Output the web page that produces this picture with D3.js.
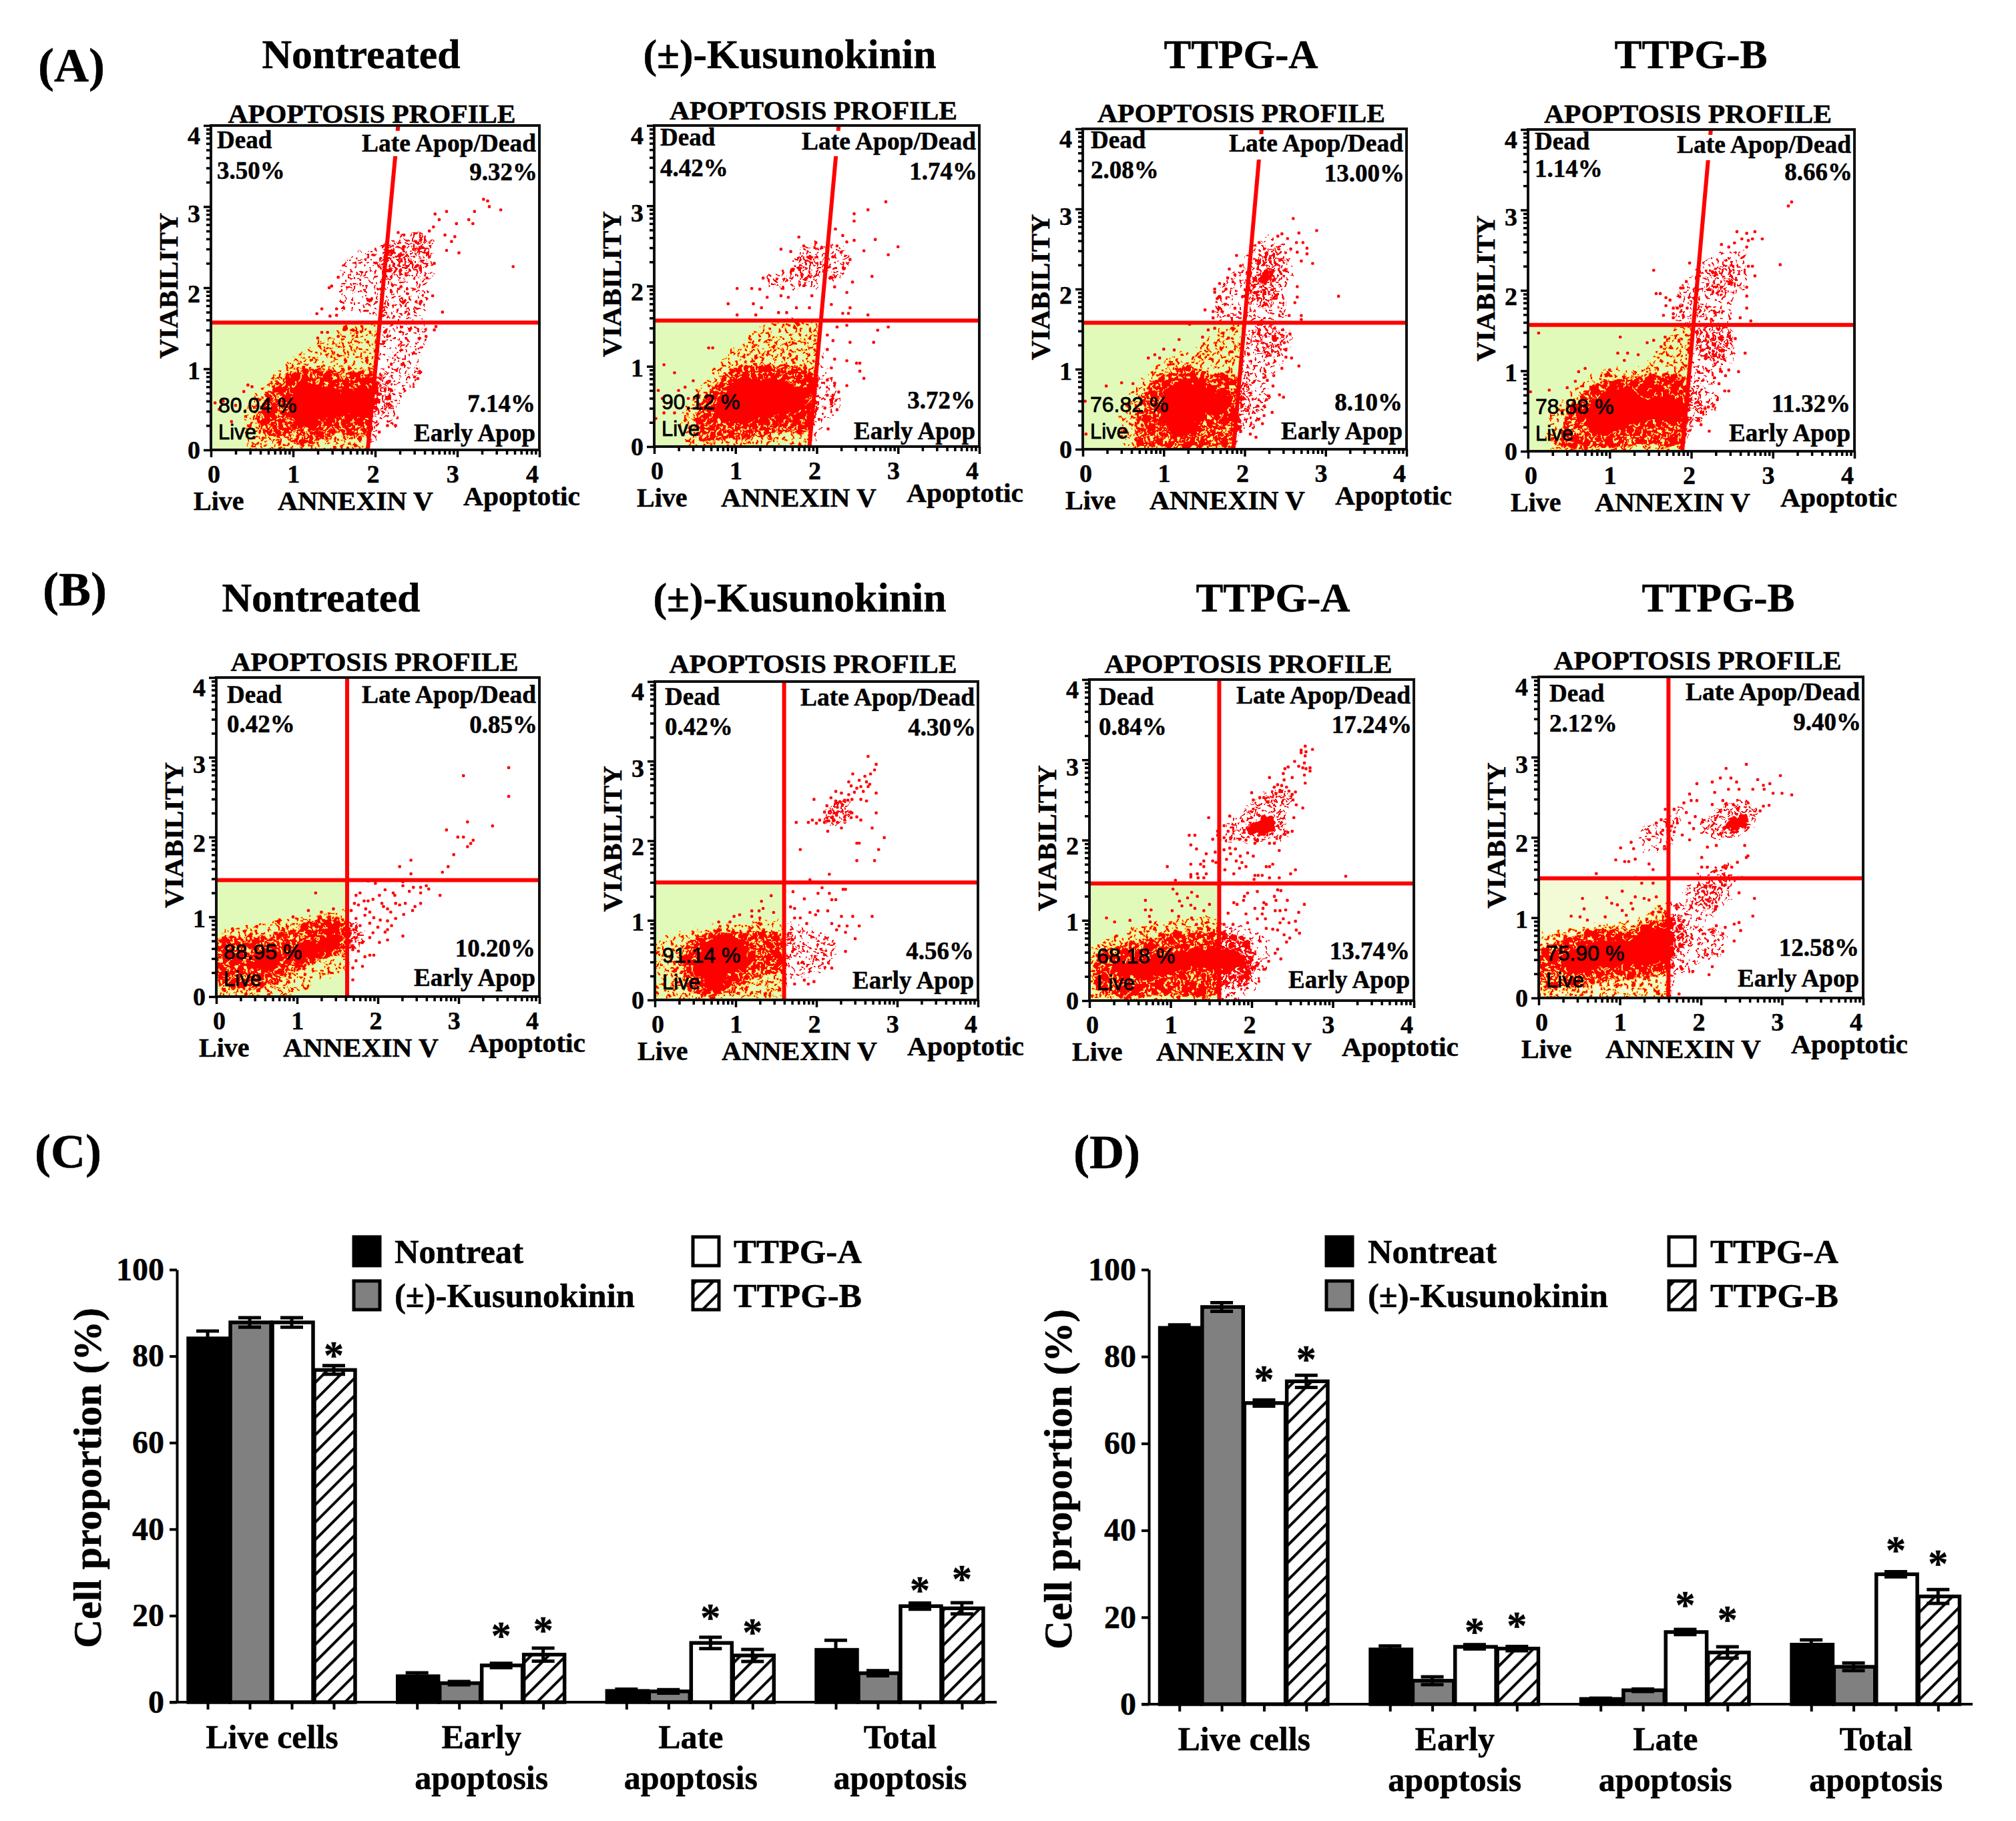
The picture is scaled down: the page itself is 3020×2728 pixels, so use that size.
<!DOCTYPE html>
<html>
<head>
<meta charset="utf-8">
<script src="https://cdn.jsdelivr.net/npm/d3@7"></script>
<style>
  body { margin: 0; background: #fff; }
  text { font-family: "Liberation Serif", serif; font-weight: bold; fill: #000; stroke: #000; stroke-width: 0.5px; }
</style>
</head>
<body>
<div id="chart"></div>
<script>
// ---- flow cytometry panels, axis units ----
const panelTitles = ["Nontreated", "(±)-Kusunokinin", "TTPG-A", "TTPG-B"];
const deadPct = ["3.50%", "4.42%", "2.08%", "1.14%", "0.42%", "0.42%", "0.84%", "2.12%"];
const latePct = ["9.32%", "1.74%", "13.00%", "8.66%", "0.85%", "4.30%", "17.24%", "9.40%"];
const earlyPct = ["7.14%", "3.72%", "8.10%", "11.32%", "10.20%", "4.56%", "13.74%", "12.58%"];
const livePct = ["80.04 %", "90.12 %", "76.82 %", "78.88 %", "88.95 %", "91.14 %", "68.18 %", "75.90 %"];
const gateBottom = [1.91, 1.91, 1.86, 1.89, 1.62, 1.60, 1.60, 1.60];
const gateTop = [2.28, 2.27, 2.21, 2.24, 1.62, 1.60, 1.60, 1.60];
const gateY = [1.57, 1.57, 1.58, 1.57, 1.46, 1.476, 1.46, 1.49];

// outline of the solid red part of each cloud
const coreA1 = [[[.95,.55],[1.0,.72],[1.15,.82],[1.35,.78],[1.6,.72],[1.9,.75],[1.97,.6],[1.9,.45],[1.6,.42],[1.35,.38],[1.2,.25],[1.05,.3]]];
const coreA2 = [[[.75,.45],[.85,.65],[1.0,.82],[1.3,.87],[1.7,.78],[1.85,.72],[1.88,.55],[1.7,.42],[1.4,.38],[1.1,.3],[.85,.32]]];
const coreA3 = [[[.95,.5],[.98,.65],[1.1,.8],[1.25,.85],[1.45,.78],[1.7,.72],[1.85,.6],[1.75,.45],[1.45,.42],[1.38,.2],[1.2,.15],[1.05,.25]],
  [[2.18,2.12],[2.24,2.22],[2.34,2.22],[2.38,2.12],[2.28,2.08]]];
const coreA4 = [[[.7,.35],[.78,.58],[.95,.75],[1.2,.78],[1.4,.68],[1.85,.65],[1.92,.45],[1.5,.38],[1.25,.35],[1.1,.25],[.85,.22]]];
const coreB1 = [[[.45,.38],[.5,.52],[.72,.56],[.8,.45],[.68,.33]], [[1.3,.62],[1.33,.7],[1.5,.78],[1.55,.65],[1.42,.58]], [[.9,.5],[1.0,.62],[1.3,.72],[1.35,.6],[1.1,.45]]];
const coreB2 = [[[.5,.35],[.55,.65],[.8,.8],[1.05,.78],[1.17,.6],[1.1,.4],[.9,.3],[.85,.12],[.7,.12],[.6,.25]]];
const coreB3 = [[[.3,.35],[.35,.45],[.7,.52],[1.0,.6],[1.3,.65],[1.6,.65],[1.85,.6],[1.9,.45],[1.6,.38],[1.3,.4],[1.0,.33],[.6,.28]],
  [[1.9,2.12],[2.0,2.2],[2.15,2.3],[2.27,2.25],[2.28,2.12],[2.1,2.08]]];
const coreB4 = [[[.3,.4],[.4,.6],[.75,.72],[1.1,.72],[1.35,.85],[1.6,.85],[1.62,.5],[1.2,.42],[.8,.38],[.5,.3]],
  [[2.28,2.12],[2.36,2.22],[2.56,2.27],[2.58,2.17],[2.4,2.08]]];

// outline of the thick speckled part, the main cloud comes first
const denseA1 = [[[.62,.25],[.62,.6],[.85,.85],[1.05,1.0],[1.4,.98],[1.75,.95],[1.98,1.02],[1.94,.2],[1.5,.18],[1.1,.05],[.95,.12]],
  [[2.1,2.12],[2.1,2.48],[2.4,2.5],[2.6,2.35],[2.55,2.12],[2.3,2.12]], [[2.42,2.42],[2.45,2.65],[2.62,2.65],[2.62,2.42]], [[1.97,.5],[2.0,.9],[2.15,.85],[2.2,.55]]];
const denseA2 = [[[.55,.08],[.5,.45],[.7,.7],[.95,.95],[1.3,1.02],[1.7,1.0],[1.95,.95],[1.93,.2],[1.5,.15],[1.0,.1]],
  [[1.7,2.1],[1.75,2.32],[1.95,2.38],[2.15,2.3],[2.15,2.15],[1.95,2.1]]];
const denseA3 = [[[.7,.05],[.72,.65],[.95,.9],[1.25,1.02],[1.55,.95],[1.85,.9],[1.87,.1],[1.4,.03],[1.0,.03]],
  [[2.0,2.05],[2.1,2.35],[2.4,2.5],[2.5,2.4],[2.4,2.0],[2.3,1.75],[2.1,1.85]], [[2.1,1.5],[2.42,1.5],[2.38,1.2],[2.15,1.2]], [[1.9,.35],[1.92,.98],[2.03,.98],[2.03,.5]]];
const denseA4 = [[[.4,.1],[.55,.6],[.9,.85],[1.3,.92],[1.6,.95],[1.9,.95],[1.88,.1],[1.4,.08],[.9,.05]],
  [[2.2,2.0],[2.25,2.25],[2.45,2.3],[2.55,2.15],[2.42,1.95]], [[2.05,1.5],[2.45,1.55],[2.5,1.25],[2.35,1.1],[2.1,1.2]], [[1.92,.35],[1.95,.8],[2.08,.8],[2.1,.4]]];
const denseB1 = [[[.02,.2],[.02,.7],[.5,.75],[1.0,.85],[1.2,.98],[1.6,.95],[1.62,.6],[1.25,.45],[.9,.3],[.7,.15],[.3,.1]], [[1.62,.7],[1.62,.9],[1.75,.92],[1.85,.75],[1.8,.65],[1.65,.6]]];
const denseB2 = [[[.35,.3],[.38,.7],[.7,.85],[1.1,.85],[1.58,.8],[1.58,.35],[1.3,.3],[1.0,.15],[.7,.05],[.5,.1]], [[1.6,.5],[1.6,.8],[1.7,.8],[1.75,.55]],
  [[2.05,2.22],[2.1,2.35],[2.2,2.45],[2.4,2.5],[2.42,2.3],[2.32,2.22]]];
const denseB3 = [[[.1,.15],[.1,.55],[.5,.72],[1.0,.85],[1.6,.85],[1.95,.75],[2.05,.45],[1.95,.2],[1.65,.2],[1.6,.08],[1.2,.05],[.8,.08],[.5,.05]],
  [[1.65,2.0],[1.7,2.18],[1.9,2.35],[2.1,2.55],[2.35,2.65],[2.5,2.55],[2.4,2.25],[2.45,2.08],[2.25,1.98],[1.95,1.98]]];
const denseB4 = [[[.02,.2],[.05,.6],[.4,.75],[.75,.85],[1.1,.85],[1.4,.95],[1.6,1.05],[1.62,.35],[1.2,.25],[.7,.18],[.35,.12]],
  [[1.6,.5],[1.6,1.05],[1.8,.95],[1.85,.75],[1.75,.6]], [[1.95,1.15],[2.0,1.4],[2.2,1.5],[2.35,1.5],[2.25,1.3],[2.1,1.1]], [[2.0,2.05],[2.05,2.25],[2.3,2.4],[2.6,2.45],[2.7,2.25],[2.4,2.0],[2.15,1.98]]];

// outline of the thin speckled part
const sparseA1 = [[[.5,0],[.45,.55],[.75,.9],[1.05,1.15],[1.4,1.38],[1.7,1.55],[1.98,1.55],[1.92,0]],
  [[1.6,1.7],[1.65,2.35],[1.9,2.45],[2.35,2.65],[2.65,2.65],[2.68,2.2],[2.55,1.62],[2.15,1.62],[1.85,1.7]], [[2.05,.3],[2.1,1.52],[2.6,1.52],[2.58,1.2],[2.5,.85],[2.3,.6],[2.25,.3]]];
const sparseA2 = [[[.45,0],[.35,.4],[.55,.7],[.75,1.0],[1.05,1.25],[1.35,1.5],[1.95,1.55],[1.92,0]],
  [[1.35,2.0],[1.35,2.12],[1.65,2.2],[1.8,2.48],[2.25,2.55],[2.4,2.3],[2.3,2.1],[2.05,2.0]], [[2.0,.3],[2.05,.9],[2.2,.85],[2.3,.6],[2.28,.5],[2.15,.35]]];
const sparseA3 = [[[.55,0],[.5,.5],[.8,.95],[1.1,1.15],[1.4,1.25],[1.7,1.5],[1.85,1.55],[1.85,0]],
  [[1.65,1.6],[1.7,2.0],[1.95,2.3],[2.2,2.65],[2.5,2.55],[2.6,2.25],[2.5,1.9],[2.5,1.62]], [[2.0,1.5],[2.55,1.5],[2.5,1.1],[2.2,.9],[2.0,1.0]], [[1.9,.25],[1.93,1.0],[2.05,1.0],[2.3,.75],[2.25,.5],[2.05,.25]]];
const sparseA4 = [[[.3,0],[.3,.5],[.6,.8],[.95,1.0],[1.4,1.05],[1.65,1.35],[1.88,1.55],[1.88,0]],
  [[1.85,1.6],[1.85,2.0],[2.1,2.3],[2.3,2.45],[2.65,2.45],[2.65,2.05],[2.5,1.9],[2.45,1.6]], [[1.97,1.5],[2.5,1.5],[2.5,1.15],[2.3,.85],[2.35,.6],[2.1,.4],[1.92,.35]]];
const sparseB1 = [[[.02,0],[.02,.78],[.5,.9],[.95,.98],[1.35,1.05],[1.6,1.05],[1.6,.35],[1.3,.2],[1.0,.05],[.5,0]]];
const sparseB2 = [[[.02,0],[.02,.7],[.35,.85],[.85,.95],[1.25,1.0],[1.58,.95],[1.58,.1],[1.1,.03],[.6,0]], [[1.6,.3],[1.6,.95],[1.9,.9],[2.2,.75],[2.2,.55],[2.1,.35],[1.85,.3]]];
const sparseB3 = [[[.02,0],[.02,.65],[.3,.8],[.6,.9],[1.1,1.0],[1.58,1.0],[1.58,0]], [[1.6,.05],[1.6,.9],[2.0,.9],[2.2,.75],[2.15,.3],[2.0,.1]]];
const sparseB4 = [[[.02,0],[.02,.75],[.4,.85],[.8,.95],[1.2,.95],[1.58,1.15],[1.58,0]], [[1.6,.45],[1.62,1.2],[1.85,1.15],[2.0,.9],[2.25,.85],[2.25,.55],[2.0,.45],[1.85,.3]],
  [[1.75,1.05],[1.9,1.5],[2.35,1.65],[2.45,1.5],[2.3,1.2],[2.1,.95]], [[1.25,1.9],[1.25,2.1],[1.55,2.2],[1.75,2.38],[1.65,1.95],[1.4,1.8]]];

// single events that stand clear of the clouds
const pointsA1 = [[3.32,3.09],[3.37,3.07],[3.39,3.0],[3.53,2.96],[3.21,2.94],[3.14,2.84],[3.19,2.79],[2.87,2.94],[2.73,2.91],[2.78,2.84],[2.71,2.75],[2.99,2.79],[2.97,2.63],[2.85,2.65],[3.02,2.43],[3.68,2.26],[2.93,2.57],[2.87,2.46],
  [2.66,2.7],[2.35,2.65],[2.28,2.68],[2.72,2.3],[2.66,2.38],[2.63,2.12],[1.44,2.0],[1.47,2.02],[1.35,1.74],[1.29,1.68],[1.53,1.74],[1.53,1.66],[1.55,2.13],[1.45,1.65],[2.82,1.7],[2.74,1.52],[2.72,1.48],[2.7,1.9],[2.15,1.4],[2.62,1.4],
  [1.35,1.45],[1.42,1.45],[1.3,1.38],[1.65,1.5],[1.78,1.45],[1.55,1.4],[.45,.8],[.4,.72],[.5,.78],[.15,.6],[.1,.5],[.3,.55],[.25,.35],[.05,.58],[2.05,.22],[2.15,.3],[2.25,.3],[2.48,.9],[2.52,.88]];
const pointsA2 = [[2.85,3.05],[2.63,2.95],[2.46,2.9],[2.46,2.81],[2.23,2.71],[2.32,2.63],[1.78,2.61],[2.72,2.58],[2.46,2.57],[3.0,2.49],[2.58,2.44],[2.88,2.39],[2.68,2.12],[1.56,2.46],[1.68,2.43],[1.84,2.5],[1.99,2.54],[2.06,2.48],[2.25,2.5],[2.37,2.55],[2.3,2.42],[2.41,2.33],[2.34,2.22],[2.44,2.05],[2.37,1.92],[2.41,1.73],[2.18,1.77],[2.22,1.99],
  [1.02,1.97],[1.2,1.97],[1.3,1.96],[1.34,2.1],[.91,1.78],[1.22,1.78],[1.02,1.64],[1.25,1.64],[1.32,1.73],[1.39,1.86],[1.56,1.88],[1.65,1.86],[1.75,1.73],[1.63,1.67],[1.53,1.67],[1.91,1.73],[1.94,1.88],[2.32,1.66],[2.63,1.64],[2.39,1.66],[2.75,1.45],[2.88,1.49],[2.7,1.3],[2.37,1.51],[2.25,1.49],[2.13,1.39],[2.2,1.32],[2.41,1.3],[2.13,1.21],[2.22,1.09],[2.37,1.07],[2.49,1.04],[2.53,1.04],[2.53,.94],[2.58,.85],[2.18,.98],[2.13,.83],[2.22,.79],[2.37,.76],[2.13,.64],[2.2,.64],[2.27,.68],[2.18,.53],[2.25,.46],[2.1,.48],[2.03,.34],[2.14,.22],
  [.12,1.02],[.25,.92],[.48,.82],[.67,1.23],[.72,1.23],[.05,.7],[.1,.6],[.2,.55],[.3,.7],[.12,.42],[.02,.35],[.25,.42],[.38,.74],[.42,.6]];
const pointsA3 = [[2.6,2.88],[2.89,2.73],[2.67,2.7],[2.46,2.69],[2.41,2.66],[2.53,2.63],[2.64,2.58],[2.18,2.58],[2.72,2.58],[2.77,2.51],[2.57,2.5],[2.77,2.44],[2.65,2.46],[1.9,2.42],[2.7,2.35],[2.84,2.32],[1.95,2.29],[1.81,2.25],[1.79,2.14],[1.88,2.18],[1.69,2.07],[1.63,2.0],[1.63,1.96],[1.77,2.0],[2.65,2.03],[3.16,1.91],[2.65,1.9],[2.62,1.83],[1.66,1.88],[1.76,1.81],[1.51,1.74],[1.61,1.72],[1.72,1.72],[1.8,1.67],[1.61,1.64],[1.88,1.76],[2.55,1.67],[2.7,1.67],[2.7,1.62],[1.32,1.56],
  [2.56,1.44],[2.49,1.33],[2.51,1.24],[2.51,1.15],[2.58,1.14],[2.46,1.01],[2.67,1.04],[2.36,.92],[2.28,.86],[2.35,.79],[2.43,.68],[2.48,.65],[2.27,.62],[2.16,.54],[2.34,.46],[2.24,.42],[2.22,.32],[2.14,.15],[2.07,.19],[1.91,.29],[1.95,.22],
  [1.19,1.37],[1.0,1.25],[1.13,1.24],[.89,1.18],[.81,1.14],[.95,1.14],[1.48,1.4],[1.55,1.49],[1.63,1.51],[1.85,1.51],[1.8,1.39],[.29,.79],[.48,.83],[.62,.82],[.04,.19],[.03,.6]];
const pointsA4 = [[3.23,3.1],[3.19,3.05],[2.56,2.73],[2.68,2.71],[2.78,2.73],[2.87,2.64],[2.62,2.64],[2.75,2.64],[2.7,2.62],[2.53,2.59],[2.68,2.54],[2.37,2.57],[2.46,2.54],[3.09,2.32],[2.75,2.3],[2.7,2.3],[2.78,2.18],[1.54,2.25],[1.98,2.34],
  [1.57,1.96],[1.62,1.96],[1.69,1.91],[1.74,1.88],[1.69,1.81],[1.78,1.78],[1.83,1.78],[1.78,1.71],[1.78,1.66],[1.66,1.69],[1.86,1.92],[1.9,2.03],[1.87,2.03],[1.94,2.11],[1.95,1.78],[1.9,1.69],[2.68,1.93],[2.68,1.78],[2.6,1.66],[2.73,1.62],[2.68,2.04],
  [2.66,1.22],[2.58,.99],[2.54,1.4],[2.42,.94],[2.46,1.01],[2.46,.75],[2.41,.75],[2.34,.84],[2.32,.64],[2.27,.56],[2.21,.55],[2.17,.53],[2.22,.25],[2.12,.33],[2.09,.4],
  [.13,1.47],[1.13,1.42],[1.1,1.22],[1.22,1.22],[1.35,1.2],[1.46,1.35],[1.54,1.38],[1.63,1.3],[1.18,1.13],[1.0,1.01],[.62,.99],[.7,1.03],[.58,.87],[.48,.79],[.26,.76],[.03,.74],[1.68,1.42],[1.85,1.38]];
const pointsB1 = [[3.62,2.87],[3.06,2.77],[3.62,2.51],[3.11,2.19],[3.42,2.14],[2.85,2.09],[2.99,2.0],[3.06,2.0],[3.18,1.96],[3.15,1.92],[3.11,1.88],[2.94,1.78],[2.87,1.63],[2.8,1.56],[2.41,1.71],[2.27,1.63],[2.41,1.54],[1.88,1.45],[1.97,1.42],[2.31,1.44],[2.31,1.39],[2.44,1.37],[2.39,1.32],[2.53,1.37],[2.6,1.39],[2.63,1.35],[2.53,1.3],[2.77,1.27],[2.09,1.34],[2.19,1.3],[2.21,1.27],[2.02,1.27],[1.78,1.3],[1.73,1.27],[1.94,1.22],[1.83,1.2],[1.88,1.2],[1.71,1.17],[1.76,1.15],[2.05,1.17],[2.07,1.13],[2.12,1.1],[2.16,1.06],[2.22,1.17],[2.27,1.15],[2.34,1.17],[2.53,1.17],[2.46,1.13],[2.43,1.08],[2.32,1.03],[2.22,.98],[1.85,1.1],[1.9,1.06],[1.84,1.02],[1.95,.99],[1.9,.92],[2.03,.96],[2.12,.95],[2.0,.87],[2.17,.89],[2.12,.84],[2.09,.81],[1.94,.8],[2.12,.71],[2.02,.68],[2.31,.76],[1.9,.74],[1.81,.68],[1.76,.78],[1.78,.89],[1.73,.98],[1.67,.89],[1.7,.84],[1.67,1.08],[1.84,.5],[1.9,.52],[1.95,.52],[1.76,.57],[1.73,.45],[1.81,.38],[1.69,.36],[1.69,.21],[1.69,.59],
  [1.23,1.30],[1.14,1.08],[1.45,1.1],[.5,.88],[.2,.85],[.35,.82],[.95,1.0],[1.3,1.06]];
const pointsB2 = [[2.64,3.06],[2.74,2.96],[2.72,2.89],[2.67,2.84],[2.45,2.84],[2.6,2.81],[2.53,2.76],[2.62,2.74],[2.4,2.74],[2.66,2.71],[2.43,2.69],[2.55,2.68],[2.64,2.68],[2.5,2.66],[2.47,2.61],[2.58,2.62],[2.74,2.6],[2.24,2.62],[2.31,2.6],[2.4,2.58],[1.97,2.52],[2.18,2.54],[2.35,2.51],[2.39,2.51],[2.44,2.52],[2.55,2.52],[2.62,2.5],[2.24,2.5],[2.29,2.49],[2.13,2.44],[2.26,2.42],[2.32,2.37],[2.42,2.36],[2.44,2.35],[2.74,2.35],[2.1,2.36],[2.17,2.37],[2.22,2.35],[2.13,2.29],[2.2,2.3],[2.25,2.32],[2.35,2.3],[2.5,2.3],[2.43,2.29],[2.55,2.26],[1.75,2.23],[1.9,2.23],[1.95,2.26],[2.0,2.22],[2.04,2.26],[2.1,2.23],[2.15,2.25],[2.21,2.25],[2.26,2.23],[2.35,2.26],[2.31,2.16],[2.69,2.16],[2.14,2.12],[2.84,2.04],[2.5,1.97],[2.53,1.97],[1.8,1.89],[2.77,1.89],[2.5,1.75],[2.72,1.75],[2.16,1.58],[1.92,1.51],[2.07,1.41],[2.33,1.39],[2.36,1.39],[1.71,1.36],[2.02,1.34],[2.16,1.34],[1.85,1.27],[2.19,1.26],[2.24,1.26],[1.68,1.17],[1.73,1.15],[1.92,1.1],[2.02,1.12],[2.14,1.12],[1.99,1.07],[2.31,1.05],[2.45,1.05],[2.69,1.05],[1.73,1.03],[1.8,1.03],[1.88,.96],[2.19,.96],[2.28,.93],[2.53,.93],[2.38,.93],[2.25,.88],[2.36,.85],[2.48,.77],[2.36,.61],[2.19,.4],[1.73,.2],[1.85,.25],[1.9,.2],[1.97,.23],
  [1.44,1.31],[1.32,1.24],[1.34,1.15],[1.29,1.12],[1.2,1.12],[1.47,1.1],[1.05,1.07],[.98,1.05],[1.2,1.05],[1.3,1.03],[.79,.98],[.93,.98]];
const pointsB3 = [[2.66,3.17],[2.61,3.12],[2.61,3.09],[2.67,3.1],[2.75,3.13],[2.66,3.05],[2.53,2.98],[2.58,2.92],[2.65,2.96],[2.63,2.9],[2.67,2.89],[2.72,2.9],[2.72,2.86],[2.45,2.91],[2.41,2.89],[2.39,2.83],[2.65,2.81],[2.22,2.78],[2.5,2.78],[2.66,2.71],[2.4,2.75],[2.32,2.69],[2.37,2.68],[2.43,2.66],[2.28,2.66],[2.35,2.62],[2.3,2.58],[2.46,2.61],[2.5,2.57],[2.54,2.6],[2.0,2.59],[2.51,2.5],[2.55,2.44],[2.63,2.4],[2.1,2.53],[2.15,2.53],[2.02,2.5],[1.73,2.3],[1.47,2.28],[2.52,2.28],[2.5,2.11],[2.41,2.07],[1.66,2.18],[1.71,2.11],[1.58,2.11],[1.58,2.06],[1.23,2.06],[1.3,2.06],[1.52,2.01],[1.66,2.03],[1.74,2.03],[1.85,2.01],[1.93,2.0],[2.04,1.96],[2.22,1.96],[2.28,1.96],[1.25,1.94],[1.32,1.89],[1.73,1.9],[1.8,1.89],[2.34,1.87],[1.66,1.88],[1.44,1.83],[1.55,1.85],[1.74,1.83],[1.86,1.8],[2.02,1.8],[1.95,1.84],[1.41,1.74],[1.37,1.7],[1.41,1.67],[1.52,1.74],[1.56,1.72],[1.25,1.7],[.96,1.67],[1.69,1.76],[1.81,1.74],[1.88,1.72],[1.93,1.67],[1.85,1.65],[2.18,1.67],[2.22,1.67],[2.26,1.7],[1.67,1.63],[2.54,1.63],[2.48,1.58],[1.78,1.58],[3.16,1.55],[1.25,1.57],[1.33,1.58],[1.44,1.58],[1.25,1.54],[1.34,1.53],[1.41,1.53],[2.04,1.56],[2.08,1.56],[2.13,1.56],[2.03,1.51],[2.22,1.53],[2.34,1.53],[1.06,1.5],
  [1.95,1.34],[2.07,1.36],[2.32,1.38],[2.36,1.37],[2.28,1.3],[1.91,1.3],[1.9,1.25],[2.3,1.25],[2.44,1.25],[1.78,1.22],[1.82,1.2],[2.15,1.22],[2.18,1.2],[2.65,1.2],[2.04,1.15],[2.14,1.15],[2.35,1.12],[2.42,1.13],[2.58,1.1],[1.71,1.09],[1.93,1.08],[2.13,1.08],[2.29,1.12],[2.54,.99],[2.39,1.02],[2.07,1.02],[1.77,.95],[1.66,.95],[1.95,.97],[2.17,1.02],[2.35,.97],[2.46,.97],[2.55,.88],[2.59,.84],[2.4,.82],[2.47,.78],[2.43,.73],[2.26,.89],[2.32,.88],[2.18,.9],[2.32,.64],[2.36,.52],[2.21,.49],[2.15,.39],[2.29,.59],[1.69,.2],[1.77,.16],[1.85,.2],[1.71,.07],[1.8,.02],[1.9,.31],[1.97,.34],
  [.69,1.25],[.69,1.13],[.76,1.13],[.74,1.05],[.21,1.03],[.31,.98],[.5,1.0],[.75,.98],[1.03,1.39],[1.08,1.33],[1.11,1.24],[1.21,1.28],[1.26,1.35],[1.33,1.3],[1.14,1.18],[1.25,1.19],[1.3,1.15],[1.41,1.12],[1.48,1.2],[1.02,1.12],[1.1,1.05],[1.26,1.03],[1.32,.95]];
const pointsB4 = [[2.56,2.91],[2.31,2.86],[2.24,2.74],[2.37,2.74],[2.14,2.69],[2.44,2.69],[1.95,2.67],[2.98,2.77],[2.7,2.72],[2.77,2.65],[2.85,2.67],[3.12,2.53],[3.0,2.55],[2.89,2.55],[2.34,2.6],[2.64,2.6],[1.86,2.54],[2.17,2.56],[2.47,2.6],[2.78,2.6],[1.88,2.46],[1.95,2.46],[1.79,2.43],[2.14,2.41],[2.27,2.46],[2.4,2.41],[2.84,2.4],[2.77,2.39],[2.73,2.33],[2.58,2.43],[1.67,2.35],[1.82,2.31],[1.93,2.26],[1.86,2.18],[1.91,2.11],[1.71,2.18],[1.77,2.03],[1.86,1.97],[1.67,2.07],[2.08,1.88],[2.19,1.9],[2.01,1.75],[2.54,1.9],[2.58,1.77],[2.56,1.75],[2.45,1.69],[2.38,1.63],[2.27,1.63],[2.17,1.58],[2.08,1.63],[2.01,1.63],[2.51,1.5],[2.3,1.41],[2.47,1.31],[2.66,1.24],[2.64,1.02],[2.47,.94],[2.41,.92],[2.49,.84],[2.3,.88],[2.19,.9],[2.27,.8],[2.41,.71],[2.27,.58],[2.14,.39],[2.1,.29],[1.9,.33],[1.73,.05],
  [.71,1.55],[1.01,1.87],[.95,1.72],[1.06,1.7],[1.11,1.7],[1.14,1.94],[1.17,1.86],[1.19,1.73],[1.36,1.67],[1.41,1.6],[1.19,1.5],[1.27,1.43],[1.41,1.43],[1.56,1.86],[1.56,2.35],[1.67,2.35],[1.51,2.22],[1.45,2.18],[1.53,2.09],[1.58,2.18],[1.64,2.14],[1.6,1.84],
  [.4,1.02],[.54,1.24],[.56,1.11],[.51,1.01],[.6,.97],[.84,1.25],[.9,1.18],[.97,1.16],[1.14,1.18],[1.16,1.11],[1.03,1.09],[1.03,1.33],[1.19,1.26],[1.3,1.24],[1.36,1.22],[1.45,1.26],[.82,1.01],[1.08,1.03],[1.41,1.07],[1.51,1.11]];

const allCore = [coreA1, coreA2, coreA3, coreA4, coreB1, coreB2, coreB3, coreB4];
const allDense = [denseA1, denseA2, denseA3, denseA4, denseB1, denseB2, denseB3, denseB4];
const allSparse = [sparseA1, sparseA2, sparseA3, sparseA4, sparseB1, sparseB2, sparseB3, sparseB4];
const allPoints = [pointsA1, pointsA2, pointsA3, pointsA4, pointsB1, pointsB2, pointsB3, pointsB4];

// ---- bar charts ----
const categories = ["Live cells", "Early apoptosis", "Late apoptosis", "Total apoptosis"];
const categoryLines = [["Live cells"], ["Early", "apoptosis"], ["Late", "apoptosis"], ["Total", "apoptosis"]];
const seriesNames = ["Nontreat", "(±)-Kusunokinin", "TTPG-A", "TTPG-B"];
const yTicks = [0, 20, 40, 60, 80, 100];

const valuesC = [[84.1, 87.8, 87.8, 76.8], [6.0, 4.4, 8.5, 11.0], [2.6, 2.5, 13.7, 10.8], [12.1, 6.7, 22.2, 21.7]];
const errorsC = [[1.7, 1.1, 1.1, 1.0], [0.8, 0.4, 0.5, 1.5], [0.4, 0.4, 1.3, 1.4], [2.2, 0.6, 0.7, 1.3]];
const starsC = [[null, null, null, 81.1], [null, null, 16.3, 17.6], [null, null, 20.6, 17.2], [null, null, 26.8, 29.5]];
const valuesD = [[86.6, 91.4, 69.3, 74.3], [12.6, 5.4, 13.2, 12.8], [1.2, 3.2, 16.6, 11.9], [13.7, 8.6, 29.9, 24.8]];
const errorsD = [[0.7, 1.0, 0.7, 1.4], [0.8, 0.9, 0.5, 0.5], [0.2, 0.3, 0.6, 1.3], [1.1, 0.9, 0.6, 1.6]];
const starsD = [[null, null, 75.7, 80.3], [null, null, 17.7, 19.0], [null, null, 23.8, 20.4], [null, null, 36.4, 33.4]];

// ---- layout ----
const W = 3020, H = 2728;
// left, right, top, bottom of each plot frame
const frames = [[316, 808, 188, 674], [980, 1467, 188, 669], [1622, 2107, 193, 673], [2289, 2778, 194, 676],
                [324, 808, 1015, 1493], [981, 1465, 1021, 1498], [1632, 2118, 1018, 1499], [2305, 2791, 1014, 1495]];
// baselines of Dead, dead %, Late, late %, (from top) early %, Early (from bottom)
const textDy = [[34, 80, 39, 82, 57, 13], [30, 76, 36, 81, 57, 11], [29, 74, 34, 79, 58, 15], [30, 71, 35, 76, 59, 15],
                [38, 82, 38, 83, 60, 16], [35, 80, 36, 81, 61, 17], [38, 83, 36, 80, 62, 19], [37, 82, 35, 80, 63, 17]];
const deadPad = [9, 9, 12, 10, 16, 15, 14, 16];
const profileDy = [-4, -9, -10, -10, -10, -13, -10, -11];
const titleX = [541, 1183, 1859, 2533, 481, 1198, 1907, 2574];
const titleLen = [297, 439, 231, 229];

const svg = d3.select("#chart").append("svg").attr("width", W).attr("height", H);
svg.append("rect").attr("width", W).attr("height", H).attr("fill", "#fff");
const defs = svg.append("defs");

// speckle tiles for the clouds, one 4 px square per X
const speckleDense = ["X.XX.XXX.X.X", "XX.XX.X.XXX.", ".XXX.XX.X.XX", "X.X.XXX.XX.X", "XXX.X.XX.XXX", ".X.XXX.XX.X.",
                      "XX.X.XX.XXXX", "X.XXX.XXX.X.", "XX.X.XX.X.XX", ".XXX.X.XXX.X", "X.X.XXXX.XX.", "XX.XX.X.XX.X"];
const speckleMid = ["X..X..X.X...", ".X...X...X.X", "..XX...X....", "X....X..X.X.", ".X.X...X...X", "...X.X...X..",
                    "X.....X.X..X", "..X.X....X..", ".X...XX....X", "X..X....X.X.", "..X..X.X...X", ".X....X..X.."];
const speckleSparse = ["X...X.....X.", "..X....X....", ".....X...X..", "X..X.....X..", "......X.....", ".X......X..X",
                       "...X.X......", "X.......X...", "..X..X.....X", "......X.X...", ".X.X.......X", ".....X..X..."];
function speckle(id, rows) {
    const p = defs.append("pattern").attr("id", id).attr("patternUnits", "userSpaceOnUse").attr("width", 48).attr("height", 48);
    rows.forEach((row, r) => row.split("").forEach((c, k) => {
        if (c === "X") p.append("rect").attr("x", k * 4).attr("y", r * 4).attr("width", 4).attr("height", 4).attr("fill", "#f00");
    }));
}
speckle("speckle-dense", speckleDense);
speckle("speckle-mid", speckleMid);
speckle("speckle-sparse", speckleSparse);

// roughens the outlines of the clouds so they do not read as smooth shapes
function roughFilter(id, halo) {
    const f = defs.append("filter").attr("id", id).attr("filterUnits", "userSpaceOnUse")
        .attr("x", 0).attr("y", 0).attr("width", W).attr("height", H)
        .attr("color-interpolation-filters", "sRGB");
    f.append("feTurbulence").attr("type", "fractalNoise").attr("baseFrequency", 0.11).attr("numOctaves", 2).attr("seed", 4).attr("result", "noise");
    f.append("feDisplacementMap").attr("in", "SourceGraphic").attr("in2", "noise").attr("scale", 18)
        .attr("xChannelSelector", "R").attr("yChannelSelector", "G").attr("result", "moved");
    if (halo) {
        f.append("feMorphology").attr("in", "moved").attr("operator", "dilate").attr("radius", 1).attr("result", "fat");
        f.append("feFlood").attr("flood-color", "#ffe05a");
        f.append("feComposite").attr("in2", "fat").attr("operator", "in");
    }
}
roughFilter("rough", false);
roughFilter("rough-halo", true);

const hatch = defs.append("pattern").attr("id", "hatch").attr("patternUnits", "userSpaceOnUse")
    .attr("width", 18.5).attr("height", 18.5).attr("patternTransform", "rotate(45)");
hatch.append("rect").attr("width", 18.5).attr("height", 18.5).attr("fill", "#fff");
hatch.append("line").attr("x1", 4).attr("x2", 4).attr("y1", 0).attr("y2", 18.5).attr("stroke", "#000").attr("stroke-width", 4);

function txt(parent, x, y, s, size, anchor, len) {
    const t = parent.append("text").attr("x", x).attr("y", y).attr("font-size", size)
        .attr("text-anchor", anchor || "start").text(s);
    if (len) t.attr("textLength", len).attr("lengthAdjust", "spacingAndGlyphs");
    return t;
}

// panel letters and group titles
[["(A)", 57, 122], ["(B)", 64, 907], ["(C)", 52, 1749], ["(D)", 1608, 1750]].forEach(d => txt(svg, d[1], d[2], d[0], 72));
titleX.forEach((tx, i) => txt(svg, tx, i < 4 ? 102 : 916, panelTitles[i % 4], 62, "middle", titleLen[i % 4]));

// log style minor ticks between the decades
const majorTicks = [0, 1, 2, 3, 4];
const minorTicks = [];
[0, 1, 2, 3].forEach(k => [2, 3, 4, 5, 6, 7, 8, 9].forEach(m => minorTicks.push(k + Math.log10(m))));
const yLabelShift = { 4: 15, 3: 11, 2: 9, 1: 3, 0: 0 };

function drawPanel(i) {
    const [l, r, t, b] = frames[i];
    const x = d3.scaleLinear().domain([0, 4]).range([l, r]);
    const y = d3.scaleLinear().domain([0, 4]).range([b, t]);
    const g = svg.append("g");
    const line = d3.line().x(d => x(d[0])).y(d => y(d[1]));
    const blob = d3.line().x(d => x(d[0])).y(d => y(d[1])).curve(d3.curveCatmullRomClosed);

    // x position of the slanted gate at a given height
    const gateAt = v => gateBottom[i] + (gateTop[i] - gateBottom[i]) * v / 4;
    const liveBox = line([[0, 0], [gateBottom[i], 0], [gateAt(gateY[i]), gateY[i]], [0, gateY[i]]]) + "Z";

    g.append("path").attr("d", liveBox).attr("fill", i === 7 ? "#f2fad6" : "#e2fab9");
    defs.append("clipPath").attr("id", "live-" + i).append("path").attr("d", liveBox);
    defs.append("clipPath").attr("id", "plot-" + i).append("rect").attr("x", l).attr("y", t).attr("width", r - l).attr("height", b - t);

    const clouds = (parent, filter) => {
        const c = parent.append("g").attr("filter", `url(#${filter})`);
        c.selectAll(".sparse").data(allSparse[i]).enter().append("path").attr("d", blob).attr("fill", "url(#speckle-sparse)");
        c.selectAll(".dense").data(allDense[i]).enter().append("path").attr("d", blob)
            .attr("fill", (d, k) => k === 0 ? "url(#speckle-dense)" : "url(#speckle-mid)");
        c.selectAll(".core").data(allCore[i]).enter().append("path").attr("d", blob).attr("fill", "#f00");
    };
    // yellow fringe round the dots where they lie on the green box
    clouds(g.append("g").attr("clip-path", `url(#live-${i})`), "rough-halo");
    clouds(g.append("g").attr("clip-path", `url(#plot-${i})`), "rough");

    g.selectAll(".dot").data(allPoints[i]).enter().append("rect")
        .attr("x", d => x(d[0]) - 2.2).attr("y", d => y(d[1]) - 2.2)
        .attr("width", 4.4).attr("height", 4.4).attr("rx", 1.5).attr("fill", "#f00");

    // gates
    g.append("path").attr("d", line([[gateBottom[i], 0], [gateTop[i], 4]])).attr("stroke", "#f00").attr("stroke-width", 6).attr("fill", "none");
    g.append("path").attr("d", line([[0, gateY[i]], [4, gateY[i]]])).attr("stroke", "#f00").attr("stroke-width", 6).attr("fill", "none");
    if (i < 4) {
        // the label box hides the top of the slanted gate in row A
        g.append("rect").attr("x", x(gateTop[i]) - 14).attr("y", t + 8).attr("width", 28).attr("height", 38).attr("fill", "#fff");
    }

    // frame
    g.append("rect").attr("x", l).attr("y", t).attr("width", r - l).attr("height", b - t)
        .attr("fill", "none").attr("stroke", "#111").attr("stroke-width", 4);

    // axes
    const style = a => { a.selectAll("path,line").attr("stroke", "#000").attr("stroke-width", 3.5); a.select(".domain").remove(); };
    g.append("g").attr("transform", `translate(0,${b})`)
        .call(d3.axisBottom(x).tickValues(minorTicks).tickSize(7).tickFormat("")).call(style);
    g.append("g").attr("transform", `translate(${l},0)`)
        .call(d3.axisLeft(y).tickValues(minorTicks).tickSize(7).tickFormat("")).call(style);
    const ax = g.append("g").attr("transform", `translate(0,${b})`)
        .call(d3.axisBottom(x).tickValues(majorTicks).tickSize(11).tickFormat(d3.format("d"))).call(style);
    ax.selectAll("text").attr("font-size", 38).attr("y", 22).attr("dx", d => 4 - d * 3.75);
    const ay = g.append("g").attr("transform", `translate(${l},0)`)
        .call(d3.axisLeft(y).tickValues(majorTicks).tickSize(11).tickFormat(d3.format("d"))).call(style);
    ay.selectAll("text").attr("font-size", 38).attr("x", -16).attr("y", d => yLabelShift[d]);
    svg.selectAll(".tick text").style("font-family", '"Liberation Serif", serif');

    // quadrant texts
    const d = textDy[i];
    txt(g, l + deadPad[i], t + d[0], "Dead", 37);
    txt(g, l + deadPad[i], t + d[1], deadPct[i], 37);
    txt(g, r - 5, t + d[2], "Late Apop/Dead", 37, "end", 261);
    txt(g, r - 3, t + d[3], latePct[i], 37, "end");
    txt(g, r - 6, b - d[4], earlyPct[i], 37, "end");
    txt(g, r - 6, b - d[5], "Early Apop", 37, "end");
    txt(g, l + 11, b - 56, livePct[i], 32).style("font-family", '"Liberation Sans", sans-serif').style("font-weight", "normal")
        .style("stroke-width", "0.8px");
    txt(g, l + 11, b - 16, "Live", 31).style("font-family", '"Liberation Sans", sans-serif').style("font-weight", "normal")
        .style("stroke-width", "0.8px");

    // axis names
    txt(g, (l + r) / 2 - 5, t + profileDy[i], "APOPTOSIS PROFILE", 41, "middle", 431);
    txt(g, l - 26, b + 90, "Live", 40);
    txt(g, l + 100, b + 90, "ANNEXIN V", 41, "start", 233);
    txt(g, l + 378, b + 83, "Apoptotic", 41, "start", 175);
    g.append("text").attr("transform", `translate(${l - 50},${(t + b) / 2 - 3}) rotate(-90)`)
        .attr("font-size", 41).attr("text-anchor", "middle").attr("textLength", 219).attr("lengthAdjust", "spacingAndGlyphs").text("VIABILITY");
}
frames.forEach((f, i) => drawPanel(i));

// ---- bars ----
const barFill = ["#000", "#808080", "#fff", "url(#hatch)"];

function drawBars(o) {
    const y = d3.scaleLinear().domain([0, 100]).range([o.y0, o.y100]);
    const x0 = d3.scaleBand().domain(categories).range(o.xr);
    const x1 = d3.scaleBand().domain(seriesNames).range([0, x0.bandwidth()]).paddingInner(0).paddingOuter(0.49);
    const g = svg.append("g");

    const rows = [];
    categories.forEach((c, ci) => seriesNames.forEach((s, si) => rows.push({
        c, s, si, v: o.values[ci][si], e: o.errors[ci][si], star: o.stars[ci][si]
    })));
    const cx = d => x0(d.c) + x1(d.s) + x1.bandwidth() / 2;

    g.selectAll(".bar").data(rows).enter().append("rect")
        .attr("x", d => x0(d.c) + x1(d.s) + 2.5).attr("width", x1.bandwidth() - 2)
        .attr("y", d => y(d.v)).attr("height", d => y(0) - y(d.v))
        .attr("fill", d => barFill[d.si]).attr("stroke", "#000").attr("stroke-width", 5.5);

    const capW = 17;
    g.selectAll(".err").data(rows).enter().append("path")
        .attr("d", d => {
            const a = y(d.v + d.e), z = y(d.v - d.e), m = cx(d);
            return `M${m - capW},${a}H${m + capW}M${m},${a}V${z}M${m - capW},${z}H${m + capW}`;
        })
        .attr("fill", "none").attr("stroke", "#000").attr("stroke-width", 5);

    // asterisks
    g.selectAll(".star").data(rows.filter(d => d.star !== null)).enter().append("text")
        .attr("x", cx).attr("y", d => y(d.star) + 26)
        .attr("text-anchor", "middle").attr("font-size", 60).text("*");

    // axes
    const ay = g.append("g").attr("transform", `translate(${o.axisX},0)`)
        .call(d3.axisLeft(y).tickValues(yTicks).tickSize(11).tickSizeOuter(0).tickFormat(d3.format("d")));
    ay.selectAll("path,line").attr("stroke", "#000").attr("stroke-width", 4);
    ay.selectAll("text").attr("font-size", 48).attr("x", -19).style("font-family", '"Liberation Serif", serif');

    const flat = d3.scaleOrdinal().domain(rows.map(d => d.c + d.s)).range(rows.map(cx));
    const ax = g.append("g").attr("transform", `translate(0,${o.y0})`)
        .call(d3.axisBottom(flat).tickSize(11).tickSizeOuter(0).tickFormat(""));
    ax.select(".domain").remove();
    ax.selectAll("line").attr("stroke", "#000").attr("stroke-width", 4);
    g.append("line").attr("x1", o.axisX - 11).attr("x2", o.axisEnd).attr("y1", o.y0).attr("y2", o.y0)
        .attr("stroke", "#000").attr("stroke-width", 4);

    categories.forEach((c, ci) => categoryLines[ci].forEach((s, k) => {
        txt(g, x0(c) + x0.bandwidth() / 2 + 2, o.labelY[k], s, 50, "middle");
    }));

    g.append("text").attr("transform", `translate(${o.titleX},${o.titleY}) rotate(-90)`)
        .attr("font-size", 60).attr("text-anchor", "middle").attr("textLength", 510)
        .attr("lengthAdjust", "spacingAndGlyphs").text("Cell proportion (%)");

    // legend, two columns
    seriesNames.forEach((s, i) => {
        const lx = i < 2 ? o.legendX[0] : o.legendX[1];
        const ly = i % 2 === 0 ? 1853 : 1919;
        g.append("rect").attr("x", lx).attr("y", ly).attr("width", 39).attr("height", 43)
            .attr("fill", barFill[i]).attr("stroke", "#000").attr("stroke-width", 5);
        txt(g, lx + o.legendGap, i % 2 === 0 ? 1892 : 1958, s, 50, "start", i === 1 ? 360 : (i === 0 ? 193 : 192));
    });
}

drawBars({ values: valuesC, errors: errorsC, stars: starsC, y0: 2550, y100: 1902, xr: [248.7, 1503.3], axisX: 265, axisEnd: 1493,
           labelY: [2619, 2680], titleX: 151, titleY: 2214, legendX: [530, 1038], legendGap: 61 });
drawBars({ values: valuesD, errors: errorsD, stars: starsD, y0: 2553, y100: 1902, xr: [1704, 2966], axisX: 1721, axisEnd: 2955,
           labelY: [2622, 2683], titleX: 1605, titleY: 2216, legendX: [1987, 2500], legendGap: 62 });
</script>
</body>
</html>
